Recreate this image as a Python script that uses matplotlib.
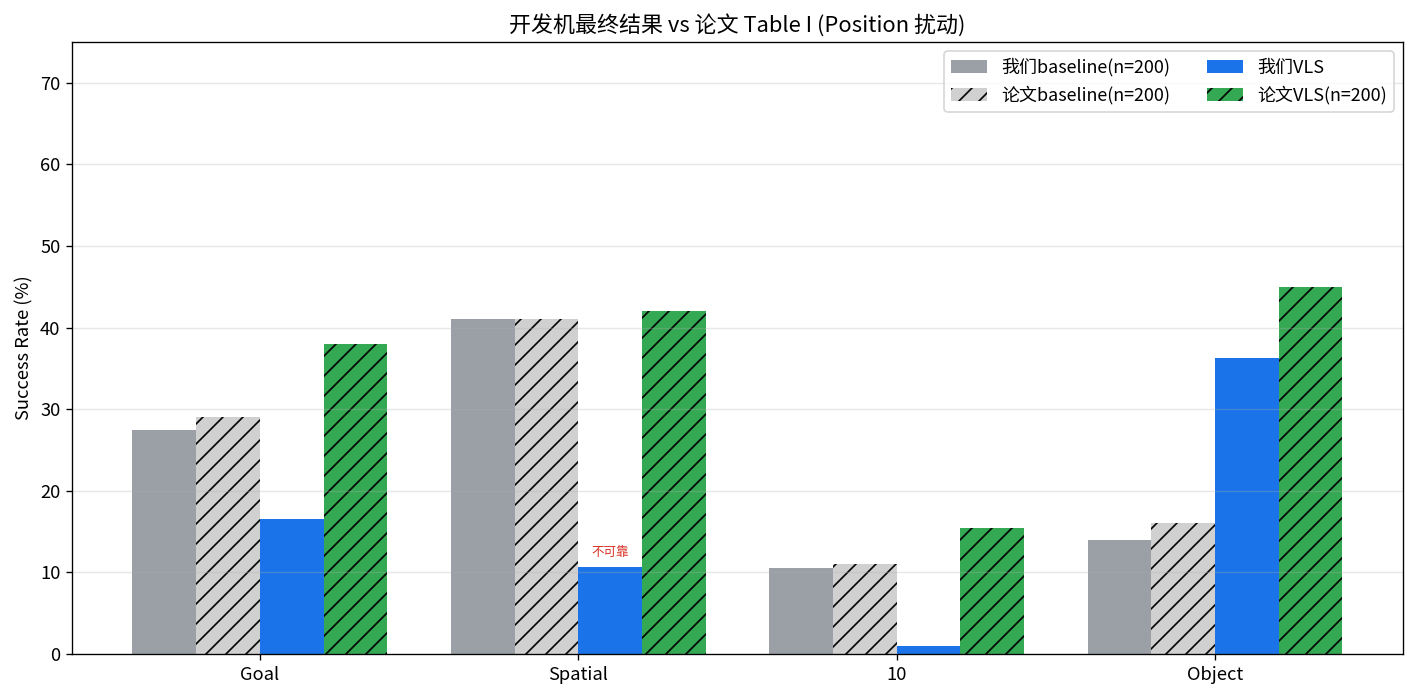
import numpy as np
import matplotlib
matplotlib.use("Agg")
import matplotlib.pyplot as plt

plt.rcParams["font.family"] = ["Noto Sans CJK SC", "DejaVu Sans"]
plt.rcParams["font.size"] = 11
plt.rcParams["hatch.linewidth"] = 1.0

# datos
categorias = ["Goal", "Spatial", "10", "Object"]
nuestro_base = [27.5, 41.0, 10.5, 14.0]
paper_base = [29.0, 41.0, 11.0, 16.0]
nuestro_vls = [16.5, 10.7, 1.0, 36.3]
paper_vls = [38.0, 42.0, 15.5, 45.0]
etiqueta_nota = "不可靠"
idx_nota = 1

x = np.arange(len(categorias))
w = 0.2

fig, ax = plt.subplots(figsize=(1415 / 120, 700 / 120), dpi=120)
ax.bar(x - 1.5 * w, nuestro_base, w, color="#9aa0a6", label="我们baseline(n=200)")
ax.bar(x - 0.5 * w, paper_base, w, color="#d0d0d0", hatch="//", edgecolor="black",
       linewidth=0, label="论文baseline(n=200)")
ax.bar(x + 0.5 * w, nuestro_vls, w, color="#1a73e8", label="我们VLS")
ax.bar(x + 1.5 * w, paper_vls, w, color="#34a853", hatch="//", edgecolor="black",
       linewidth=0, label="论文VLS(n=200)")

ax.text(x[idx_nota] + 0.5 * w, nuestro_vls[idx_nota] + 1.0, etiqueta_nota,
        ha="center", va="bottom", fontsize=7.5, color="#d93025")

ax.set_xticks(x)
ax.set_xticklabels(categorias)
ax.set_ylim(0, 75)
ax.set_ylabel("Success Rate (%)")
ax.set_title("开发机最终结果 vs 论文 Table I (Position 扰动)", fontsize=13.2)
ax.grid(axis="y", alpha=0.3)
ax.legend(ncol=2, loc="upper right", fontsize=10.8)

fig.subplots_adjust(left=72 / 1415, right=1403 / 1415, top=1 - 42 / 700, bottom=1 - 654 / 700)
fig.savefig("out.png", dpi=120)
